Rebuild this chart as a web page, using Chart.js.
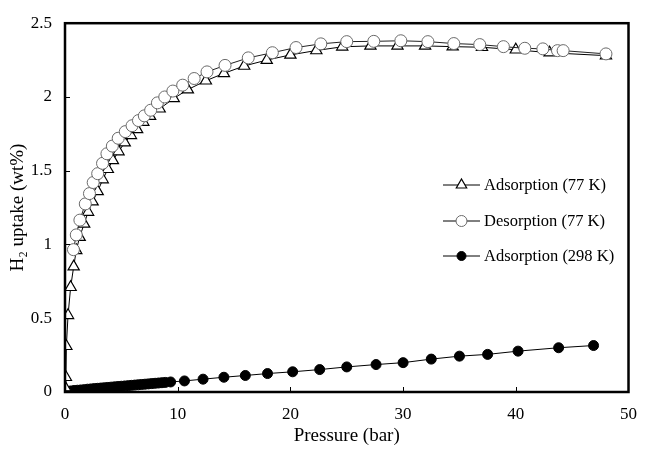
<!DOCTYPE html>
<html>
<head>
<meta charset="utf-8">
<script src="https://cdn.jsdelivr.net/npm/chart.js@4.4.0/dist/chart.umd.min.js"></script>
<style>
  html, body { margin: 0; padding: 0; background: #fff; }
  #wrap { width: 649px; height: 451px; }
</style>
</head>
<body>
<div id="wrap"><canvas id="uptakeChart"></canvas></div>
<script>
// adsorption at 77 K
const ads77Pressure = [0.02, 0.08, 0.12, 0.27, 0.5, 0.77, 1.0, 1.3, 1.7, 2.05, 2.45, 2.9, 3.35, 3.8, 4.25, 4.75, 5.3, 5.85, 6.4, 6.95, 7.55, 8.4, 9.65, 10.9, 12.5, 14.1, 15.9, 17.9, 20.0, 22.3, 24.6, 27.1, 29.5, 31.95, 34.4, 37.0, 40.0, 43.0, 48.0];
const ads77Uptake = [0.03, 0.10, 0.31, 0.52, 0.71, 0.85, 0.96, 1.05, 1.14, 1.22, 1.29, 1.36, 1.44, 1.51, 1.57, 1.63, 1.69, 1.74, 1.78, 1.83, 1.87, 1.92, 1.99, 2.05, 2.11, 2.16, 2.21, 2.25, 2.285, 2.315, 2.34, 2.346, 2.346, 2.346, 2.341, 2.337, 2.32, 2.30, 2.28];

// desorption at 77 K
const des77Pressure = [0.75, 1.0, 1.32, 1.8, 2.17, 2.5, 2.9, 3.33, 3.72, 4.2, 4.72, 5.35, 5.95, 6.52, 7.04, 7.6, 8.2, 8.85, 9.57, 10.44, 11.46, 12.6, 14.2, 16.26, 18.4, 20.5, 22.7, 25.0, 27.4, 29.8, 32.2, 34.5, 36.8, 38.9, 40.8, 42.4, 43.7, 44.2, 48.0];
const des77Uptake = [0.965, 1.065, 1.165, 1.275, 1.345, 1.42, 1.48, 1.55, 1.615, 1.667, 1.72, 1.765, 1.805, 1.84, 1.872, 1.91, 1.96, 2.0, 2.04, 2.08, 2.125, 2.17, 2.214, 2.265, 2.30, 2.335, 2.36, 2.375, 2.377, 2.381, 2.375, 2.362, 2.355, 2.341, 2.33, 2.326, 2.314, 2.314, 2.292];

// adsorption at 298 K
const ads298Pressure = [0.05, 0.2, 0.5, 0.8, 1.1, 1.4, 1.7, 2.0, 2.3, 2.6, 2.9, 3.2, 3.5, 3.8, 4.1, 4.4, 4.7, 5.0, 5.3, 5.6, 5.9, 6.2, 6.5, 6.8, 7.1, 7.4, 7.7, 8.0, 8.3, 8.6, 8.9, 9.37, 10.6, 12.25, 14.1, 16.0, 17.97, 20.2, 22.6, 25.0, 27.6, 30.0, 32.5, 35.0, 37.5, 40.2, 43.8, 46.9];
const ads298Uptake = [0.002, 0.004, 0.007, 0.010, 0.012, 0.014, 0.016, 0.019, 0.021, 0.023, 0.025, 0.027, 0.029, 0.031, 0.033, 0.035, 0.037, 0.039, 0.041, 0.043, 0.045, 0.047, 0.049, 0.051, 0.053, 0.055, 0.057, 0.059, 0.061, 0.063, 0.065, 0.068, 0.075, 0.087, 0.100, 0.112, 0.125, 0.137, 0.152, 0.170, 0.186, 0.199, 0.223, 0.243, 0.255, 0.277, 0.300, 0.315];

const seriesNames = ["Adsorption (77 K)", "Desorption (77 K)", "Adsorption (298 K)"];
const xTicks = [0, 10, 20, 30, 40, 50];
const yTicks = [0, 0.5, 1, 1.5, 2, 2.5];

const FONT = "'Liberation Serif', 'Times New Roman', serif";

function pairs(xs, ys) {
    return xs.map((x, i) => ({ x: x, y: ys[i] }));
}

// frame around the plot plus inward tick marks
const framePlugin = {
    id: "frame",
    afterDraw(chart) {
        const ctx = chart.ctx;
        const a = chart.chartArea;
        const xs = chart.scales.x, ys = chart.scales.y;
        ctx.save();
        ctx.strokeStyle = "#000";
        ctx.lineWidth = 1;
        xTicks.slice(1, -1).forEach(v => {
            const px = Math.round(xs.getPixelForValue(v)) + 0.5;
            ctx.beginPath();
            ctx.moveTo(px, a.bottom);
            ctx.lineTo(px, a.bottom - 5);
            ctx.stroke();
        });
        yTicks.slice(1, -1).forEach(v => {
            const py = Math.round(ys.getPixelForValue(v)) + 0.5;
            ctx.beginPath();
            ctx.moveTo(a.left, py);
            ctx.lineTo(a.left + 5, py);
            ctx.stroke();
        });
        ctx.lineWidth = 2.5;
        ctx.strokeRect(a.left, a.top, a.right - a.left, a.bottom - a.top);
        ctx.restore();
    }
};

// legend drawn inside the plot area, to the right
const insideLegend = {
    id: "insideLegend",
    afterDraw(chart) {
        const ctx = chart.ctx;
        const x0 = 443, x1 = 480, xt = 484;
        const rows = [185, 221, 256];
        ctx.save();
        ctx.font = "16.5px " + FONT;
        ctx.textBaseline = "middle";
        chart.data.datasets.forEach((ds, i) => {
            const y = rows[i];
            ctx.strokeStyle = "#000";
            ctx.lineWidth = 1;
            ctx.beginPath();
            ctx.moveTo(x0, y);
            ctx.lineTo(x1, y);
            ctx.stroke();
            ctx.fillStyle = ds.pointBackgroundColor;
            ctx.strokeStyle = ds.pointBorderColor;
            ctx.lineWidth = ds.pointBorderWidth;
            Chart.helpers.drawPoint(ctx, {
                pointStyle: ds.pointStyle,
                radius: ds.pointRadius - 0.5,
                borderWidth: ds.pointBorderWidth
            }, (x0 + x1) / 2, y);
            ctx.fillStyle = "#000";
            ctx.fillText(seriesNames[i], xt, y + 1);
        });
        ctx.restore();
    }
};

new Chart(document.getElementById("uptakeChart"), {
    type: "scatter",
    data: {
        datasets: [
            {
                label: seriesNames[0],
                data: pairs(ads77Pressure, ads77Uptake),
                showLine: true,
                borderColor: "#000",
                borderWidth: 1,
                pointStyle: "triangle",
                pointRadius: 6.5,
                pointBorderWidth: 1.2,
                pointBackgroundColor: "#fff",
                pointBorderColor: "#000",
                order: 2
            },
            {
                label: seriesNames[1],
                data: pairs(des77Pressure, des77Uptake),
                showLine: true,
                borderColor: "#222",
                borderWidth: 1,
                pointStyle: "circle",
                pointRadius: 6,
                pointBorderWidth: 1,
                pointBackgroundColor: "#fff",
                pointBorderColor: "#6a6a6a",
                order: 1
            },
            {
                label: seriesNames[2],
                data: pairs(ads298Pressure, ads298Uptake),
                showLine: true,
                borderColor: "#000",
                borderWidth: 1,
                pointStyle: "circle",
                pointRadius: 5,
                pointBorderWidth: 1,
                pointBackgroundColor: "#000",
                pointBorderColor: "#000",
                order: 3
            }
        ]
    },
    options: {
        responsive: true,
        maintainAspectRatio: false,
        animation: false,
        layout: { padding: { top: 19, right: 10, bottom: 0, left: 0 } },
        plugins: {
            legend: { display: false },
            tooltip: { enabled: false }
        },
        scales: {
            x: {
                type: "linear",
                min: 0,
                max: 50,
                afterFit(s) { s.height = 59; },
                afterBuildTicks(s) { s.ticks = xTicks.map(v => ({ value: v })); },
                grid: { display: false, drawTicks: false },
                border: { display: false },
                ticks: { color: "#000", padding: 12, font: { family: FONT, size: 17 } },
                title: {
                    display: true,
                    text: "Pressure (bar)",
                    color: "#000",
                    padding: { top: 0, bottom: 4 },
                    font: { family: FONT, size: 19 }
                }
            },
            y: {
                type: "linear",
                min: 0,
                max: 2.5,
                afterFit(s) { s.width = 65; },
                afterBuildTicks(s) { s.ticks = yTicks.map(v => ({ value: v })); },
                grid: { display: false, drawTicks: false },
                border: { display: false },
                ticks: {
                    color: "#000",
                    padding: 13,
                    font: { family: FONT, size: 17 },
                    callback: v => String(v)
                },
                title: {
                    display: true,
                    text: "H₂ uptake (wt%)",
                    color: "#000",
                    padding: { top: 7, bottom: 0 },
                    font: { family: FONT, size: 19 }
                }
            }
        }
    },
    plugins: [framePlugin, insideLegend]
});
</script>
</body>
</html>
